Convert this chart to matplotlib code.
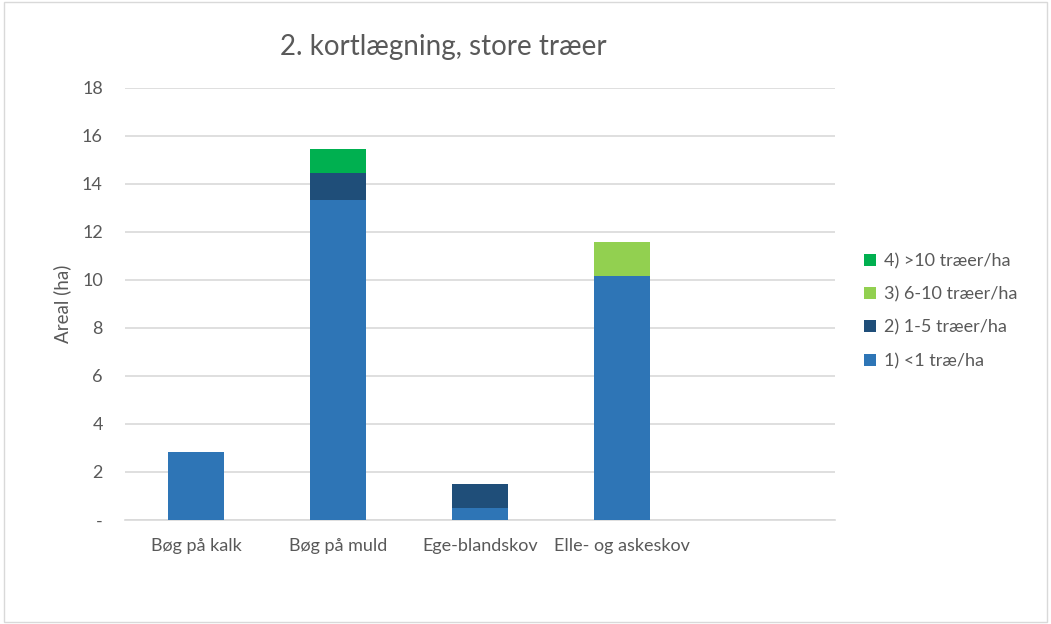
import numpy as np
import matplotlib.pyplot as plt
from matplotlib.patches import Rectangle

plt.rcParams['font.family'] = ['Lato', 'DejaVu Sans']

categories = ['Bøg på kalk', 'Bøg på muld', 'Ege-blandskov', 'Elle- og askeskov', '']
series_names = ['1) <1 træ/ha', '2) 1-5 træer/ha', '3) 6-10 træer/ha', '4) >10 træer/ha']
s1 = [2.83, 13.33, 0.48, 10.18, 0]
s2 = [0, 1.11, 1.02, 0, 0]
s3 = [0, 0, 0, 1.40, 0]
s4 = [0, 1.01, 0, 0, 0]
colors = ['#2E75B6', '#1F4E79', '#92D050', '#00B050']
yticks = [0, 2, 4, 6, 8, 10, 12, 14, 16, 18]
ytick_labels = ['-', '2', '4', '6', '8', '10', '12', '14', '16', '18']

fig = plt.figure(figsize=(10.51, 6.24), dpi=100)
ax = fig.add_axes([125 / 1051, 1 - 520 / 624, 710 / 1051, 432 / 624])

x = np.arange(len(categories))
bottom = np.zeros(len(categories))
handles = []
for vals, name, c in zip([s1, s2, s3, s4], series_names, colors):
    b = ax.bar(x, vals, 0.4, bottom=bottom, color=c, label=name, zorder=3)
    handles.append(b)
    bottom += np.array(vals)

ax.set_xlim(-0.5, len(categories) - 0.5)
ax.set_ylim(0, 18)
ax.set_yticks(yticks)
ax.set_yticklabels(ytick_labels)
ax.set_xticks(x)
ax.set_xticklabels(categories)
ax.yaxis.grid(True, color='#D9D9D9', linewidth=1.2, zorder=0)
for s in ['top', 'right', 'left']:
    ax.spines[s].set_visible(False)
ax.spines['bottom'].set_color('#D9D9D9')
ax.spines['bottom'].set_linewidth(1.2)
ax.tick_params(axis='both', length=0, colors='#595959', labelsize=13)
ax.tick_params(axis='x', pad=13)
ax.tick_params(axis='y', pad=16)
ax.set_ylabel('Areal (ha)', color='#595959', fontsize=13.5, labelpad=8)

fig.text(443 / 1051, 1 - 47 / 624, '2. kortlægning, store træer', ha='center', va='center',
         fontsize=20, color='#595959')

leg = fig.legend(handles[::-1], series_names[::-1], loc='center left',
                 bbox_to_anchor=(848 / 1051, 1 - 311 / 624), frameon=False,
                 fontsize=13, handlelength=0.65, handleheight=0.65, labelspacing=0.95,
                 handletextpad=0.45)
for t in leg.get_texts():
    t.set_color('#595959')

fig.patches.append(Rectangle((0.004, 0.004), 0.992, 0.992, transform=fig.transFigure,
                             fill=False, edgecolor='#D9D9D9', linewidth=1))

fig.savefig('out.png', dpi=100)
